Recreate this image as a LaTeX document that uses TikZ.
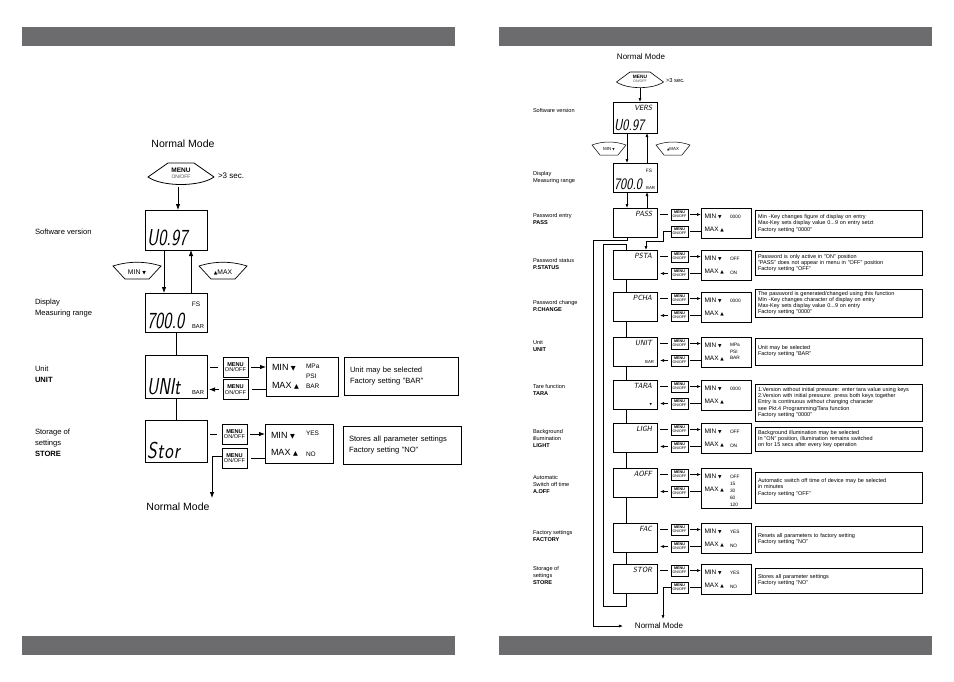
\documentclass[tikz,border=0pt]{standalone}
\usepackage{fontspec}
\usepackage{graphicx}
\setmainfont{Liberation Sans}
\newfontfamily\symfont{DejaVu Sans}
\usetikzlibrary{arrows.meta,calc}
\definecolor{barcol}{RGB}{108,108,110}
\newcommand\lcd[3]{\scalebox{#1}[1]{\fontsize{#2}{#2}\selectfont\sffamily\slshape #3}}
\newcommand\tdn{{\symfont\scalebox{0.7}{▼}}}
\newcommand\tup{{\symfont\scalebox{0.7}{▲}}}
\newcommand\rrow[6]{%
 \node[rbox] (#1) at (635,#2+14.5) {};
 \node[anchor=north east] at ([shift={(-5pt,-3pt)}]#1.north east) {\lcd{0.9}{7.5}{#3}};
 \node[rmenu] (#1a) at (679.5,#2+6.5) {\textbf{MENU}\\ON/OFF};
 \node[rmenu] (#1b) at (679.5,#2+23.5) {\textbf{MENU}\\ON/OFF};
 \node[rmm, minimum height=#6] (#1m) at (726,#2+#6/2) {};
 \node[anchor=west, font=\fontsize{6.5}{7}\selectfont] at ([shift={(3.5pt,-8.5pt)}]#1m.north west) {MIN \tdn};
 \node[anchor=west, font=\fontsize{6.5}{7}\selectfont] at ([shift={(3.5pt,-21.5pt)}]#1m.north west) {MAX \tup};
 \node[anchor=west, font=\fontsize{4.8}{5}\selectfont] at ([shift={(29pt,-8.5pt)}]#1m.north west) {#4};
 \node[anchor=west, font=\fontsize{4.8}{5}\selectfont] at ([shift={(29pt,-22.5pt)}]#1m.north west) {#5};
 \draw[rln, shorten <=3pt, shorten >=3pt] (#1.east |- #1a) -- (#1a.west);
 \draw[rarr, shorten <=2pt] (#1a.east) -- (#1a.east -| #1m.west);
 \draw[rln, shorten <=2pt] (#1b.east) -- (#1b.east -| #1m.west);
}
\begin{document}
\begin{tikzpicture}[x=1pt,y=-1pt,
  every node/.style={inner sep=0pt, outer sep=0pt},
  ln/.style={line width=0.8pt},
  arr/.style={line width=0.8pt, -{Latex[length=6pt,width=4.5pt]}},
  rln/.style={line width=0.6pt},
  rarr/.style={line width=0.6pt, -{Latex[length=4pt,width=3pt]}},
  lbox/.style={draw, line width=0.9pt, minimum width=62pt},
  rbox/.style={draw, line width=0.7pt, minimum width=44pt, minimum height=29pt},
  lmenu/.style={draw, line width=0.9pt, minimum width=25pt, minimum height=20pt, align=center, font=\fontsize{5.6}{5.8}\selectfont},
  rmenu/.style={draw, line width=0.9pt, minimum width=17pt, minimum height=11pt, align=center, font=\fontsize{3.7}{3.9}\selectfont},
  lmm/.style={draw, line width=0.8pt},
  rmm/.style={draw, line width=0.7pt, minimum width=50pt},
  lnote/.style={draw, line width=0.8pt, align=left, font=\fontsize{7.6}{10.5}\selectfont, inner xsep=6pt},
  rnote/.style={draw, line width=0.7pt, minimum width=167pt, text width=161pt, inner xsep=3pt, align=left, font=\fontsize{5.5}{6.1}\selectfont, anchor=north west},
  llab/.style={anchor=north west, align=left, font=\fontsize{7.6}{10.8}\selectfont},
  rlab/.style={anchor=north west, align=left, font=\fontsize{5.6}{7.2}\selectfont},
  lmin/.style={anchor=west, font=\fontsize{9}{10}\selectfont},
  lval/.style={anchor=west, font=\fontsize{6.5}{7}\selectfont},
]
\fill[white] (0,0) rectangle (954,681);
\useasboundingbox (0,0) rectangle (954,681);
% bars
\fill[barcol] (22,27) rectangle (455,46);
\fill[barcol] (499,27) rectangle (932,46);
\fill[barcol] (22,636) rectangle (455,655);
\fill[barcol] (499,636) rectangle (932,655);

%================ LEFT PANEL
\node[font=\fontsize{10.5}{12}\selectfont] (nm1) at (183,144) {Normal Mode};
\node[minimum width=66pt, minimum height=24pt] (mb1) at (181,173) {};
\draw[line width=0.8pt] ($(mb1)+(-33,4)$) -- ($(mb1)+(-13,-10)$) -- ($(mb1)+(13,-10)$) -- ($(mb1)+(33,4)$) .. controls ($(mb1)+(19,14)$) and ($(mb1)+(-19,14)$) .. cycle;
\node[font=\fontsize{6.5}{6}\selectfont\bfseries] at ($(mb1)+(0,-2.5)$) {MENU};
\node[font=\fontsize{5}{5}\selectfont, text=black!70] at ($(mb1)+(0,3.5)$) {ON/OFF};
\node[anchor=west, font=\fontsize{8}{9}\selectfont] (t3s) at (218,176) {>3 sec.};

\node[lbox, minimum height=40pt] (sw) at (176,230) {};
\node[anchor=south west] at ([shift={(2pt,4pt)}]sw.south west) {\lcd{0.76}{23}{U0.97}};
\draw[arr, shorten <=1.5pt] ([xshift=-3pt]mb1.south) -- ([xshift=2pt]sw.north);

\node[minimum width=48pt, minimum height=16pt] (mn1) at (137,271) {};
\draw[line width=0.7pt] ($(mn1)+(-24,-5)$) .. controls ($(mn1)+(-8,-10)$) and ($(mn1)+(8,-10)$) .. ($(mn1)+(24,-5)$) -- ($(mn1)+(12,8)$) -- ($(mn1)+(-12,8)$) -- cycle;
\node[font=\fontsize{6.8}{7}\selectfont] at ($(mn1)+(0,1)$) {MIN \tdn};
\node[minimum width=48pt, minimum height=16pt] (mx1) at (223,271) {};
\draw[line width=0.7pt] ($(mx1)+(-24,-5)$) .. controls ($(mx1)+(-8,-10)$) and ($(mx1)+(8,-10)$) .. ($(mx1)+(24,-5)$) -- ($(mx1)+(12,8)$) -- ($(mx1)+(-12,8)$) -- cycle;
\node[font=\fontsize{6.8}{7}\selectfont] at ($(mx1)+(0,1)$) {\tup MAX};

\node[lbox, minimum height=39pt] (fs) at (176,312.5) {};
\node[font=\fontsize{6.5}{6}\selectfont] at ([shift={(-11pt,-11pt)}]fs.north east) {FS};
\node[anchor=south west] at ([shift={(2pt,3pt)}]fs.south west) {\lcd{0.76}{23}{700.0}};
\node[anchor=south east, font=\fontsize{5.8}{6}\selectfont] at ([shift={(-3pt,4pt)}]fs.south east) {BAR};
\draw[arr] ([xshift=-12pt]sw.south) -- ([xshift=-12pt]fs.north);
\draw[arr] ([xshift=15pt]fs.north) -- ([xshift=15pt]sw.south);

\node[lbox, minimum height=43pt] (un) at (176,376.5) {};
\node[anchor=south west] at ([shift={(2pt,3pt)}]un.south west) {\lcd{0.76}{23}{UNIt}};
\node[anchor=south east, font=\fontsize{5.8}{6}\selectfont] at ([shift={(-3pt,4pt)}]un.south east) {BAR};
\draw[ln] (fs.south) -- (un.north);

\node[lbox, minimum height=42pt] (st) at (176,441) {};
\node[anchor=south west] at ([shift={(2pt,3pt)}]st.south west) {\lcd{0.8}{23}{S\kern1pt t\kern1pt o\kern1pt r}};
\draw[ln] (un.south) -- (st.north);

% unit row
\node[lmenu] (um1) at (235.5,367) {\textbf{MENU}\\ON/OFF};
\node[lmenu] (um2) at (235.5,389.5) {\textbf{MENU}\\ON/OFF};
\node[lmm, minimum width=72pt, minimum height=39pt] (umm) at (302,376.5) {};
\node[lmin] at ([shift={(6pt,-11pt)}]umm.north west) {MIN \tdn};
\node[lmin] at ([shift={(6pt,-29pt)}]umm.north west) {MAX \tup};
\node[lval] at ([shift={(40pt,-9pt)}]umm.north west) {MPa};
\node[lval] at ([shift={(40pt,-19pt)}]umm.north west) {PSI};
\node[lval] at ([shift={(40pt,-29pt)}]umm.north west) {BAR};
\draw[ln, shorten <=3pt, shorten >=5pt] (un.east |- um1) -- (um1.west);
\draw[arr, shorten <=3pt] (um1.east) -- (um1.east -| umm.west);
\draw[ln, shorten <=4pt] (um2.east) -- (um2.east -| umm.west);
\draw[arr, shorten <=4pt, shorten >=2pt] (um2.west) -- (um2.west -| un.east);
\node[lnote, minimum width=114pt, minimum height=38pt, text width=102pt] (unn) at (401,376) {Unit may be selected\\Factory setting "BAR"};

% store row
\node[lmenu] (sm1) at (234.5,434) {\textbf{MENU}\\ON/OFF};
\node[lmenu] (sm2) at (234.5,458) {\textbf{MENU}\\ON/OFF};
\node[lmm, minimum width=68pt, minimum height=39pt] (smm) at (299,443.5) {};
\node[lmin] at ([shift={(6pt,-12pt)}]smm.north west) {MIN \tdn};
\node[lmin] at ([shift={(6pt,-29pt)}]smm.north west) {MAX \tup};
\node[lval] at ([shift={(41pt,-9pt)}]smm.north west) {YES};
\node[lval] at ([shift={(41pt,-30pt)}]smm.north west) {NO};
\draw[ln, shorten <=3pt, shorten >=5pt] (st.east |- sm1) -- (sm1.west);
\draw[arr, shorten <=3pt] (sm1.east) -- (sm1.east -| smm.west);
\draw[ln, shorten <=4pt] (sm2.east) -- (sm2.east -| smm.west);
\node[lnote, minimum width=118pt, minimum height=38pt, text width=106pt] (stn) at (402,445) {Stores all parameter settings\\Factory setting "NO"};
\node[font=\fontsize{10.5}{12}\selectfont] (nm2) at (178,507) {Normal Mode};
\coordinate (nmin) at (212,498);
\draw[arr] ([yshift=2pt]sm2.west) -| (nmin);

% left labels
\node[llab] at (35,229) {Software version};
\node[llab] at (35,299) {Display\\Measuring range};
\node[llab] at (35,366) {Unit\\\textbf{UNIT}};
\node[llab] at (35,429) {Storage of\\settings\\\textbf{STORE}};

%================ RIGHT PANEL
\node[font=\fontsize{8}{9}\selectfont] (nmr) at (641,57) {Normal Mode};
\node[minimum width=47pt, minimum height=18pt] (mbr) at (640,79) {};
\draw[line width=0.6pt] ($(mbr)+(-23.5,3)$) -- ($(mbr)+(-10,-7)$) -- ($(mbr)+(10,-7)$) -- ($(mbr)+(23.5,3)$) .. controls ($(mbr)+(13,10.5)$) and ($(mbr)+(-13,10.5)$) .. cycle;
\node[font=\fontsize{4.8}{5}\selectfont\bfseries] at ($(mbr)+(0,-2)$) {MENU};
\node[font=\fontsize{3.6}{4}\selectfont, text=black!70] at ($(mbr)+(0,2.5)$) {ON/OFF};
\node[anchor=west, font=\fontsize{5.8}{6}\selectfont] (t3r) at (666,80) {>3 sec.};

\node[rbox, minimum height=31pt] (vr) at (635,117.5) {};
\node[anchor=north east] at ([shift={(-5pt,-3pt)}]vr.north east) {\lcd{0.9}{7.5}{VERS}};
\node[anchor=south west] at ([shift={(1pt,2pt)}]vr.south west) {\lcd{0.82}{16}{U0.97}};
\draw[rarr] (mbr.south) -- (mbr.south |- vr.north);

\node[minimum width=34pt, minimum height=12pt] (mn2) at (609,149) {};
\draw[line width=0.5pt] ($(mn2)+(-17,-4)$) .. controls ($(mn2)+(-6,-8)$) and ($(mn2)+(6,-8)$) .. ($(mn2)+(17,-4)$) -- ($(mn2)+(9,6)$) -- ($(mn2)+(-9,6)$) -- cycle;
\node[font=\fontsize{4.4}{4}\selectfont] at ($(mn2)+(0,0.5)$) {MIN \tdn};
\node[minimum width=34pt, minimum height=12pt] (mx2) at (673,149) {};
\draw[line width=0.5pt] ($(mx2)+(-17,-4)$) .. controls ($(mx2)+(-6,-8)$) and ($(mx2)+(6,-8)$) .. ($(mx2)+(17,-4)$) -- ($(mx2)+(9,6)$) -- ($(mx2)+(-9,6)$) -- cycle;
\node[font=\fontsize{4.4}{4}\selectfont] at ($(mx2)+(0,0.5)$) {\tup MAX};

\node[rbox, minimum height=29pt] (fr) at (635,177.5) {};
\node[font=\fontsize{4.8}{5}\selectfont] at ([shift={(-8pt,-8pt)}]fr.north east) {FS};
\node[anchor=south west] at ([shift={(1pt,2pt)}]fr.south west) {\lcd{0.82}{16}{700.0}};
\node[anchor=south east, font=\fontsize{4.3}{4}\selectfont] at ([shift={(-2pt,2.5pt)}]fr.south east) {BAR};
\draw[rarr] ([xshift=-8pt]vr.south) -- ([xshift=-8pt]fr.north);
\draw[rarr] ([xshift=12pt]fr.north) -- ([xshift=12pt]vr.south);

% rows
\rrow{pass}{208}{PASS}{0000}{}{30}
\rrow{psta}{250}{PSTA}{OFF}{ON}{30}
\rrow{pcha}{292}{PCHA}{0000}{}{30}
\rrow{unit}{337}{UNIT}{}{}{30}
\rrow{tara}{380}{TARA}{0000}{}{30}
\rrow{ligh}{423}{LIGH}{OFF}{ON}{30}
\rrow{aoff}{468}{AOFF}{}{}{40}
\rrow{fac}{523}{FAC}{YES}{NO}{30}
\rrow{stor}{564}{STOR}{YES}{NO}{30}

% extras
\node[anchor=south east, font=\fontsize{4.3}{4}\selectfont] at ([shift={(-3pt,2.5pt)}]unit.south east) {BAR};
\node[anchor=south east, font=\fontsize{4.5}{4}\selectfont] at ([shift={(-5pt,3pt)}]tara.south east) {\tdn};
\foreach \v/\dy in {MPa/8, PSI/14.5, BAR/21}
  \node[anchor=west, font=\fontsize{4.8}{5}\selectfont] at ([shift={(29pt,-\dy pt)}]unitm.north west) {\v};
\foreach \v/\dy in {OFF/9, 15/16, 30/23, 60/30, 120/37}
  \node[anchor=west, font=\fontsize{4.8}{5}\selectfont] at ([shift={(29pt,-\dy pt)}]aoffm.north west) {\v};

% back arrows from second menu to display
\foreach \r in {psta,pcha,unit,tara,ligh,aoff,fac}
  \draw[rarr, shorten <=3pt, shorten >=3pt] (\r b.west) -- (\r b.west -| \r.east);

% vertical chain
\foreach \a/\b in {psta/pcha,pcha/unit,unit/tara,tara/ligh,ligh/aoff,aoff/fac,fac/stor}
  \draw[rln] ([xshift=-9pt]\a.south) -- ([xshift=-9pt]\b.north);

\draw[rarr] ([xshift=-8pt]fr.south) -- ([xshift=-8pt]pass.north);
\draw[rarr] ([xshift=12pt]pass.north) -- ([xshift=12pt]fr.south);

% PASS second menu to PSTA
\coordinate (pj) at (663,241.5);
\draw[rarr] (passb.west) -| (pj) -| ([xshift=11pt]psta.north);

% outer loop to normal mode
\node[font=\fontsize{8}{9}\selectfont] (nmr2) at (659,626) {Normal Mode};
\coordinate (ol) at (593,626);
\draw[rarr] ([xshift=-8pt]pass.south) -- ++(0,3) -| (ol) -- ([xshift=-12pt]nmr2.west);

% inner loop
\coordinate (il) at (603,606);
\draw[rln] ([xshift=-9pt]psta.north) -- ++(0,-6) -| (il) -| ([xshift=-9pt]stor.south);

% store exit
\coordinate (se) at (663,619);
\draw[rarr] (storb.west) -| (se);

% right notes
\node[rnote, minimum height=27pt] (passn) at (755,210) {Min -Key changes figure of display on entry\\Max-Key sets display value 0...9 on entry setzt\\Factory setting "0000"};
\node[rnote, minimum height=24pt] (pstan) at (755,251) {Password is only active in "ON" position\\"PASS" does not appear in menu in "OFF" position\\Factory setting "OFF"};
\node[rnote, minimum height=28pt] (pchan) at (755,289) {The password is generated/changed using this function\\Min -Key changes character of display on entry\\Max-Key sets display value 0...9 on entry\\Factory setting "0000"};
\node[rnote, minimum height=27pt] (unitn) at (755,338) {Unit may be selected\\Factory setting "BAR"};
\node[rnote, minimum height=37pt] (taran) at (755,384) {1.Version without initial pressure: enter tara value using keys\\2.Version with initial pressure: press both keys together\\Entry is continuous without changing character\\see Pkt.4 Programming/Tara function\\Factory setting "0000"};
\node[rnote, minimum height=24pt] (lighn) at (755,427) {Background illumination may be selected\\In "ON" position, illumination remains switched\\on for 15 secs after every key operation};
\node[rnote, minimum height=31pt] (aoffn) at (755,472) {Automatic switch off time of device may be selected\\in minutes\\Factory setting "OFF"};
\node[rnote, minimum height=26pt] (facn) at (755,526) {Resets all parameters to factory setting\\Factory setting "NO"};
\node[rnote, minimum height=25pt] (storn) at (755,568) {Stores all parameter settings\\Factory setting "NO"};

% right labels
\node[rlab] at (533,108) {Software version};
\node[rlab] at (533,171) {Display\\Measuring range};
\node[rlab] at (533,213) {Password entry\\\textbf{PASS}};
\node[rlab] at (533,258) {Password status\\\textbf{P.STATUS}};
\node[rlab] at (533,300) {Password change\\\textbf{P.CHANGE}};
\node[rlab] at (533,340) {Unit\\\textbf{UNIT}};
\node[rlab] at (533,384) {Tare function\\\textbf{TARA}};
\node[rlab] at (533,429) {Background\\illumination\\\textbf{LIGHT}};
\node[rlab] at (533,475) {Automatic\\Switch off time\\\textbf{A.OFF}};
\node[rlab] at (533,530) {Factory settings\\\textbf{FACTORY}};
\node[rlab] at (533,566) {Storage of\\settings\\\textbf{STORE}};
\end{tikzpicture}
\end{document}
